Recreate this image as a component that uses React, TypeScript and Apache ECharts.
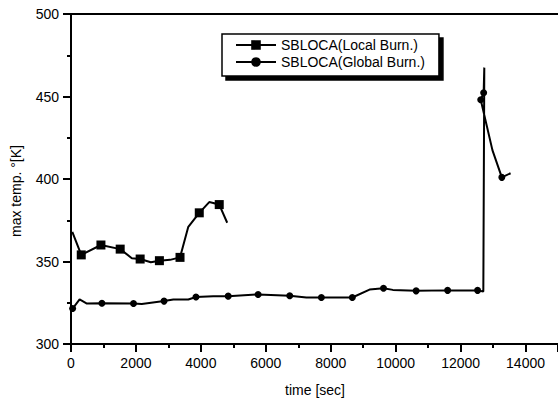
import React, { useEffect, useRef } from "react";
import * as echarts from "echarts";

const seriesNames = ["SBLOCA(Local Burn.)", "SBLOCA(Global Burn.)"];

// [time (s), max temperature (K), marker shown (1) or not (0)]
const localBurn: [number, number, number][] = [
  [40, 368, 0],
  [316, 354, 1],
  [922, 360, 1],
  [1515, 357.5, 1],
  [1874, 352, 0],
  [2130, 351.5, 1],
  [2458, 349.5, 0],
  [2723, 350.5, 1],
  [3051, 351, 0],
  [3358, 352.5, 1],
  [3613, 371, 0],
  [3951, 379.5, 1],
  [4258, 386, 0],
  [4381, 385.5, 0],
  [4566, 384.5, 1],
  [4811, 373.5, 0],
];

const globalBurn: [number, number, number][] = [
  [50, 321.5, 1],
  [265, 327, 0],
  [490, 324.5, 0],
  [952, 324.7, 1],
  [1925, 324.5, 1],
  [2180, 324.3, 0],
  [2866, 326, 1],
  [3152, 327, 0],
  [3613, 327, 0],
  [3849, 328.5, 1],
  [4381, 329, 0],
  [4842, 329, 1],
  [5763, 330, 1],
  [6737, 329.2, 1],
  [7250, 328.2, 0],
  [7711, 328.2, 1],
  [8664, 328.2, 1],
  [9195, 333, 0],
  [9625, 333.8, 1],
  [9912, 332.8, 0],
  [10630, 332.2, 1],
  [11600, 332.5, 1],
  [12523, 332.5, 1],
  [12700, 331.8, 0],
  [12730, 467.5, 0],
  [12710, 452.3, 1],
  [12620, 448, 1],
  [12980, 417.5, 0],
  [13270, 401, 1],
  [13540, 403.5, 0],
];

const xMin = 0;
const xMax = 15000;
const xInterval = 2000;
const yMin = 300;
const yMax = 500;
const yInterval = 50;

const xTitle = "time [sec]";
const yTitle = "max temp. °[K]";

const FONT = "'Liberation Sans', Arial, Helvetica, sans-serif";

function toData(arr: [number, number, number][]) {
  return arr.map(([t, v, m]) =>
    m ? { value: [t, v] } : { value: [t, v], symbol: "none" }
  );
}

export default function App() {
  const ref = useRef<HTMLDivElement>(null);
  useEffect(() => {
    if (!ref.current) return;
    const chart = echarts.init(ref.current, null, { renderer: "svg" });
    const axisLine = { lineStyle: { color: "#000", width: 2 } };
    chart.setOption({
      animation: false,
      backgroundColor: "#fff",
      grid: { left: 71, top: 14, right: -2, bottom: 63, containLabel: false },
      legend: {
        orient: "vertical",
        left: 222,
        top: 34,
        padding: [4, 14, 7, 13],
        itemGap: 3,
        itemWidth: 40,
        itemHeight: 12,
        backgroundColor: "#fff",
        borderColor: "#000",
        borderWidth: 1.5,
        borderRadius: 0,
        shadowColor: "#000",
        shadowBlur: 0,
        shadowOffsetX: 4,
        shadowOffsetY: 4,
        textStyle: { color: "#000", fontSize: 14, fontFamily: FONT },
        data: seriesNames,
      },
      xAxis: [
        {
          type: "value",
          min: xMin,
          max: xMax,
          interval: xInterval,
          position: "bottom",
          axisLine,
          axisTick: { show: true, length: 8, lineStyle: { width: 2, color: "#000" } },
          minorTick: { show: true, splitNumber: 2, length: 4, lineStyle: { width: 2, color: "#000" } },
          splitLine: { show: false },
          axisLabel: {
            color: "#000",
            fontSize: 14,
            fontFamily: FONT,
            margin: 12,
            showMaxLabel: false,
            formatter: (v: number) => (v > 14000 ? "" : String(v)),
          },
        },
        {
          type: "value",
          min: xMin,
          max: xMax,
          interval: xInterval,
          position: "top",
          axisLine,
          axisTick: { show: false },
          axisLabel: { show: false },
          splitLine: { show: false },
        },
      ],
      yAxis: {
        type: "value",
        min: yMin,
        max: yMax,
        interval: yInterval,
        axisLine: { show: true, ...axisLine },
        axisTick: { show: true, length: 8, lineStyle: { width: 2, color: "#000" } },
        minorTick: { show: true, splitNumber: 2, length: 4, lineStyle: { width: 2, color: "#000" } },
        splitLine: { show: false },
        axisLabel: { color: "#000", fontSize: 14, fontFamily: FONT, margin: 12 },
      },
      graphic: [
        {
          type: "text",
          x: 315,
          y: 390,
          style: {
            text: xTitle,
            fill: "#000",
            fontSize: 14,
            fontFamily: FONT,
            align: "center",
            verticalAlign: "middle",
          },
        },
        {
          type: "text",
          x: 16,
          y: 191,
          rotation: Math.PI / 2,
          style: {
            text: yTitle,
            fill: "#000",
            fontSize: 14,
            fontFamily: FONT,
            align: "center",
            verticalAlign: "middle",
          },
        },
      ],
      series: [
        {
          name: seriesNames[0],
          type: "line",
          xAxisIndex: 0,
          data: toData(localBurn),
          symbol: "rect",
          symbolSize: 9,
          showAllSymbol: true,
          lineStyle: { color: "#000", width: 2 },
          itemStyle: { color: "#000" },
          z: 3,
        },
        {
          name: seriesNames[1],
          type: "line",
          xAxisIndex: 0,
          data: toData(globalBurn),
          symbol: "circle",
          symbolSize: 7,
          showAllSymbol: true,
          lineStyle: { color: "#000", width: 2 },
          itemStyle: { color: "#000" },
          z: 3,
        },
      ],
    });
    return () => chart.dispose();
  }, []);
  return (
    <div
      ref={ref}
      style={{ position: "fixed", left: 0, top: 0, width: 558, height: 407, background: "#fff" }}
    />
  );
}
